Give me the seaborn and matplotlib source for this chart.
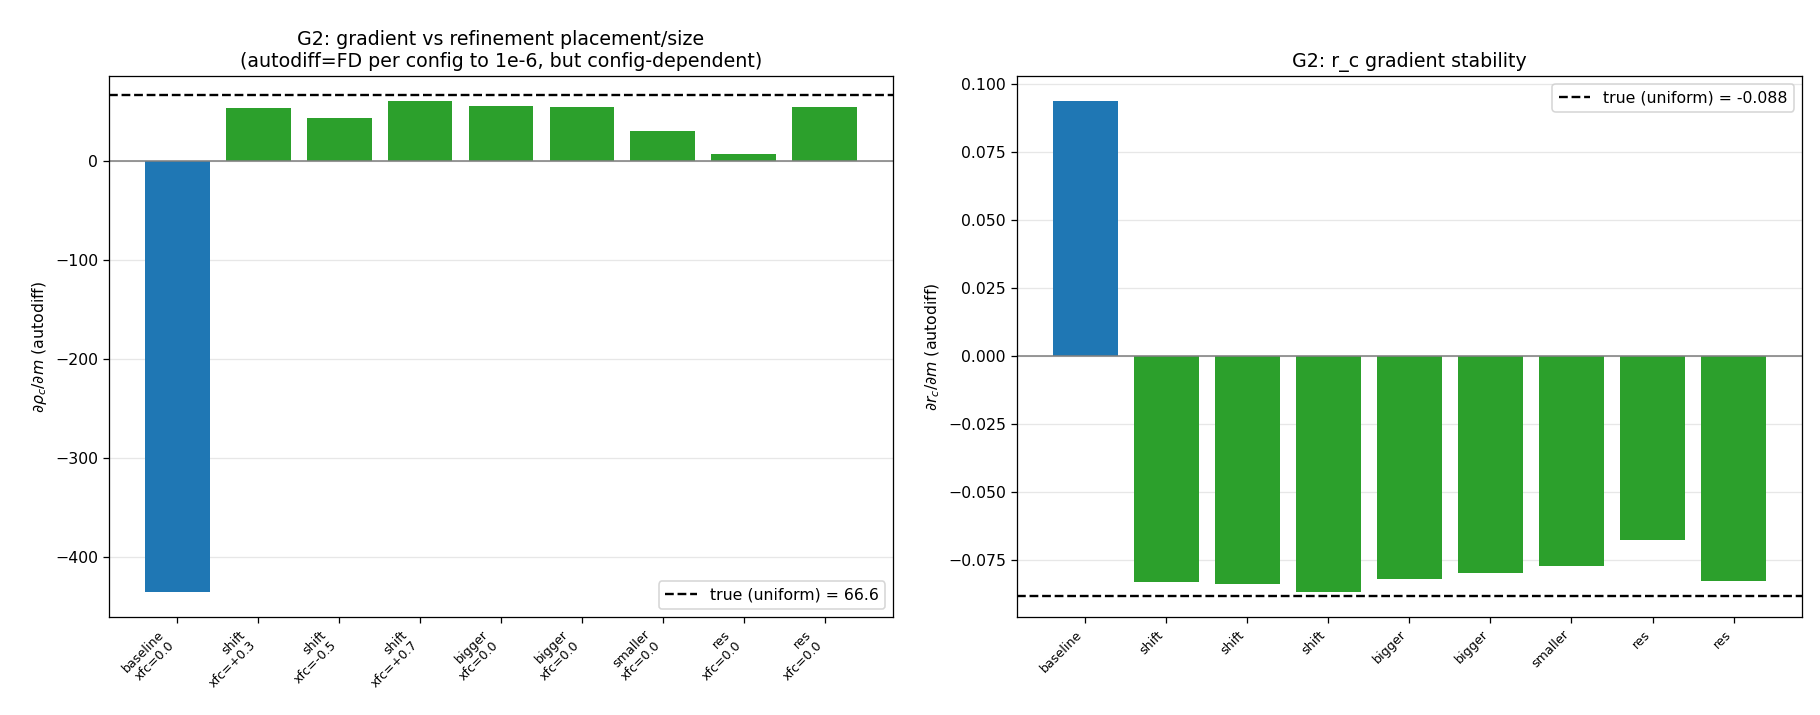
import numpy as np
import pandas as pd
import matplotlib
matplotlib.use("Agg")
import matplotlib.pyplot as plt
import seaborn as sns

# configs
names = ["baseline", "shift", "shift", "shift", "bigger", "bigger", "smaller", "res", "res"]
xfc = ["0.0", "+0.3", "-0.5", "+0.7", "0.0", "0.0", "0.0", "0.0", "0.0"]

# gradients
drho = [-435.7, 54.2, 44.0, 61.4, 56.3, 55.3, 30.7, 7.2, 55.3]
drc = [0.0938, -0.0832, -0.0839, -0.0869, -0.0820, -0.0798, -0.0772, -0.0675, -0.0828]
true_rho = 66.6
true_rc = -0.0883

kind = ["baseline"] + ["variant"] * 8
palette = {"baseline": "#1f77b4", "variant": "#2ca02c"}

df = pd.DataFrame({"i": np.arange(len(names)), "drho": drho, "drc": drc, "kind": kind})

plt.rcParams["font.family"] = ["DejaVu Sans"]

W, H = 1820, 715
fig = plt.figure(figsize=(16, H / 113.75), dpi=113.75)
ax1 = fig.add_axes([109.3 / W, 1 - 617 / H, (892.7 - 109.3) / W, (617 - 76) / H])
ax2 = fig.add_axes([1017 / W, 1 - 617 / H, (1801.7 - 1017) / W, (617 - 76) / H])

# Plot 1: density gradient
sns.barplot(data=df, x="i", y="drho", hue="kind", palette=palette, dodge=False,
            legend=False, width=0.8, saturation=1, ax=ax1)
ax1.axhline(0, color="grey", lw=1)
ax1.axhline(true_rho, color="black", ls="--", lw=1.5, label=f"true (uniform) = {true_rho}")
ax1.set_xticks(range(len(names)))
ax1.set_xticklabels([f"{n}\nxfc={x}" for n, x in zip(names, xfc)], rotation=45, ha="right", fontsize=8)
ax1.set_xlabel("")
ax1.set_ylabel(r"$\partial\rho_c/\partial m$ (autodiff)")
ax1.set_title("G2: gradient vs refinement placement/size\n(autodiff=FD per config to 1e-6, but config-dependent)")
ax1.grid(axis="y", alpha=0.3)
ax1.set_axisbelow(True)
ax1.legend(loc="lower right")

# Plot 2: r_c gradient
sns.barplot(data=df, x="i", y="drc", hue="kind", palette=palette, dodge=False,
            legend=False, width=0.8, saturation=1, ax=ax2)
ax2.axhline(0, color="grey", lw=1)
ax2.axhline(true_rc, color="black", ls="--", lw=1.5, label="true (uniform) = -0.088")
ax2.set_xticks(range(len(names)))
ax2.set_xticklabels(names, rotation=45, ha="right", fontsize=8)
ax2.set_xlabel("")
ax2.set_ylabel(r"$\partial r_c/\partial m$ (autodiff)")
ax2.set_title("G2: r_c gradient stability")
ax2.grid(axis="y", alpha=0.3)
ax2.set_axisbelow(True)
ax2.legend(loc="upper right")

for ax in (ax1, ax2):
    ax.set_xlim(-0.4 - 0.44, len(names) - 0.6 + 0.44)

plt.savefig("out.png")
plt.close()
print("saved")
